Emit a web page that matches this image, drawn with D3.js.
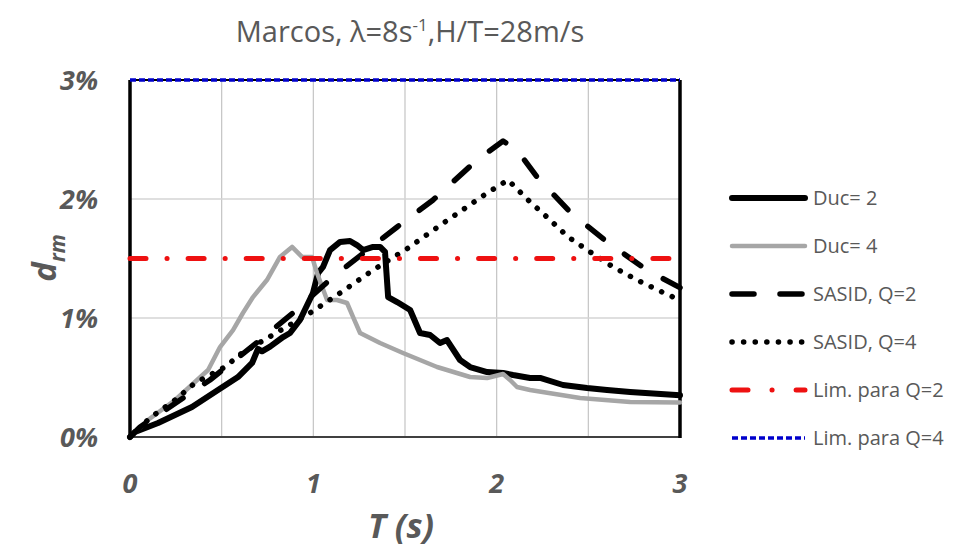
<!DOCTYPE html>
<html>
<head>
<meta charset="utf-8">
<script src="https://cdn.jsdelivr.net/npm/d3@7"></script>
<style>
  body { margin: 0; background: #fff; }
  text { font-family: "Open Sans", "Liberation Sans", sans-serif; fill: #595959; }
</style>
</head>
<body>
<div id="chart"></div>
<script>
// Periods (s) and drift ratios (%)
var duc2T = [0, 0.027, 0.153, 0.338, 0.48, 0.589, 0.666, 0.698, 0.72, 0.764, 0.835, 0.873, 0.927, 0.998, 1.026, 1.053, 1.091, 1.146, 1.2, 1.238, 1.271, 1.326, 1.364, 1.391, 1.408, 1.457, 1.528, 1.582, 1.637, 1.691, 1.729, 1.8, 1.855, 1.948, 2.035, 2.089, 2.182, 2.237, 2.362, 2.493, 2.602, 2.728, 3.0];
var duc2D = [0, 0.042, 0.118, 0.252, 0.395, 0.504, 0.622, 0.74, 0.72, 0.76, 0.84, 0.874, 0.983, 1.21, 1.378, 1.429, 1.571, 1.639, 1.647, 1.613, 1.571, 1.597, 1.597, 1.555, 1.176, 1.134, 1.067, 0.874, 0.857, 0.79, 0.815, 0.647, 0.588, 0.546, 0.538, 0.521, 0.496, 0.496, 0.437, 0.412, 0.395, 0.378, 0.35];

var duc4T = [0, 0.098, 0.246, 0.426, 0.491, 0.562, 0.616, 0.671, 0.747, 0.818, 0.884, 0.911, 0.938, 0.993, 1.02, 1.075, 1.129, 1.184, 1.217, 1.255, 1.364, 1.489, 1.675, 1.855, 1.948, 2.035, 2.073, 2.111, 2.182, 2.455, 2.728, 3.0];
var duc4D = [0, 0.143, 0.311, 0.563, 0.756, 0.899, 1.042, 1.176, 1.319, 1.513, 1.597, 1.555, 1.513, 1.513, 1.378, 1.151, 1.151, 1.126, 1.008, 0.874, 0.79, 0.706, 0.588, 0.504, 0.496, 0.529, 0.479, 0.42, 0.395, 0.328, 0.294, 0.29];

var sasid2T = [0, 0.055, 0.436, 0.709, 0.889, 1.107, 1.457, 1.653, 1.893, 2.035, 2.111, 2.22, 2.4, 2.602, 2.82, 3.0];
var sasid2D = [0, 0.084, 0.479, 0.815, 1.042, 1.345, 1.765, 1.992, 2.328, 2.487, 2.412, 2.185, 1.891, 1.639, 1.403, 1.255];

var sasid4T = [0, 0.109, 0.246, 0.355, 0.518, 0.611, 0.982, 1.146, 1.326, 1.517, 1.702, 1.948, 2.062, 2.171, 2.28, 2.39, 2.51, 2.635, 2.766, 2.902, 3.0];
var sasid4D = [0, 0.16, 0.311, 0.454, 0.588, 0.706, 1.042, 1.21, 1.403, 1.588, 1.79, 2.05, 2.16, 1.992, 1.84, 1.681, 1.555, 1.429, 1.319, 1.218, 1.15];

var limQ2 = 1.5;
var limQ4 = 3.0;

var xTicks = [0, 1, 2, 3];
var xGrid = [0.5, 1, 1.5, 2, 2.5];
var yTicks = [0, 1, 2, 3];
var seriesNames = ["Duc= 2", "Duc= 4", "SASID, Q=2", "SASID, Q=4", "Lim. para Q=2", "Lim. para Q=4"];

function pairs(t, d) { return t.map(function (v, i) { return [v, d[i]]; }); }

var series = [
    { name: seriesNames[0], data: pairs(duc2T, duc2D), color: "#000", width: 6, dash: null, cap: "round" },
    { name: seriesNames[1], data: pairs(duc4T, duc4D), color: "#a6a6a6", width: 4.5, dash: null, cap: "round" },
    { name: seriesNames[2], data: pairs(sasid2T, sasid2D), color: "#000", width: 5.5, dash: "20,26", cap: "round" },
    { name: seriesNames[3], data: pairs(sasid4T, sasid4D), color: "#000", width: 5.5, dash: "0.1,11.5", cap: "round" },
    { name: seriesNames[4], data: [[0, limQ2], [3, limQ2]], color: "#ee1111", width: 5, dash: "16,21,0.1,21", cap: "round" },
    { name: seriesNames[5], data: [[0, limQ4], [3, limQ4]], color: "#0000cc", width: 3.5, dash: "6,3", cap: "butt" }
];

var svgWidth = 960, svgHeight = 551;
var margin = { top: 80, left: 130, right: 280, bottom: 114 };

var svg = d3.select("#chart").append("svg")
    .attr("width", svgWidth)
    .attr("height", svgHeight);

var xScale = d3.scaleLinear().domain([0, 3]).range([margin.left, svgWidth - margin.right]);
var yScale = d3.scaleLinear().domain([0, 3]).range([svgHeight - margin.bottom, margin.top]);

// grid
svg.append("g").selectAll("line").data(xGrid).enter().append("line")
    .attr("x1", d => xScale(d)).attr("x2", d => xScale(d))
    .attr("y1", yScale(0)).attr("y2", yScale(3))
    .attr("stroke", "#c4c4c4").attr("stroke-width", 1.2);
svg.append("g").selectAll("line").data([1, 2]).enter().append("line")
    .attr("x1", xScale(0)).attr("x2", xScale(3))
    .attr("y1", d => yScale(d)).attr("y2", d => yScale(d))
    .attr("stroke", "#d4d4d4").attr("stroke-width", 1.5);

// frame
svg.append("line").attr("x1", xScale(0)).attr("x2", xScale(3))
    .attr("y1", yScale(0)).attr("y2", yScale(0))
    .attr("stroke", "#404040").attr("stroke-width", 2);
svg.append("line").attr("x1", xScale(0)).attr("x2", xScale(3))
    .attr("y1", yScale(3)).attr("y2", yScale(3))
    .attr("stroke", "#000").attr("stroke-width", 2);
[0, 3].forEach(function (v) {
    svg.append("line").attr("x1", xScale(v)).attr("x2", xScale(v))
        .attr("y1", yScale(0) + 1).attr("y2", yScale(3))
        .attr("stroke", "#000").attr("stroke-width", 3.5);
});

// series
var line = d3.line().x(d => xScale(d[0])).y(d => yScale(d[1]));
series.forEach(function (s) {
    svg.append("path")
        .datum(s.data)
        .attr("d", line)
        .attr("fill", "none")
        .attr("stroke", s.color)
        .attr("stroke-width", s.width)
        .attr("stroke-linecap", s.cap)
        .attr("stroke-linejoin", "round")
        .attr("stroke-dasharray", s.dash);
});

// tick labels
svg.append("g").selectAll("text").data(yTicks).enter().append("text")
    .attr("x", 98).attr("y", d => yScale(d) + 10)
    .attr("text-anchor", "end")
    .style("font-size", "27px").style("font-weight", "bold").style("font-style", "italic")
    .text(d => d + "%");
svg.append("g").selectAll("text").data(xTicks).enter().append("text")
    .attr("x", d => xScale(d)).attr("y", 493)
    .attr("text-anchor", "middle")
    .style("font-size", "27px").style("font-weight", "bold").style("font-style", "italic")
    .text(d => d);

// axis titles
svg.append("text")
    .attr("x", 401).attr("y", 538)
    .attr("text-anchor", "middle")
    .style("font-size", "34px").style("font-weight", "bold").style("font-style", "italic")
    .text("T (s)");
var yt = svg.append("text")
    .attr("transform", "translate(56,258) rotate(-90)")
    .attr("text-anchor", "middle")
    .style("font-size", "33px").style("font-weight", "bold").style("font-style", "italic");
yt.append("tspan").text("d");
yt.append("tspan").attr("dy", 9).style("font-size", "21px").text("rm");

// title
var title = svg.append("text")
    .attr("x", 410).attr("y", 42)
    .attr("text-anchor", "middle")
    .style("font-size", "29px");
title.append("tspan").text("Marcos, λ=8s");
title.append("tspan").attr("dy", -11).style("font-size", "17px").text("-1");
title.append("tspan").attr("dy", 11).text(",H/T=28m/s");

// legend
var legend = svg.append("g");
series.forEach(function (s, i) {
    var y = 198 + i * 48;
    legend.append("line")
        .attr("x1", 732).attr("x2", 805)
        .attr("y1", y).attr("y2", y)
        .attr("stroke", s.color)
        .attr("stroke-width", s.width)
        .attr("stroke-linecap", s.cap)
        .attr("stroke-dasharray", i === 2 ? "22,26" : (i === 4 ? "16,24,0.1,24" : s.dash));
    legend.append("text")
        .attr("x", 813).attr("y", y + 7)
        .style("font-size", "20px")
        .text(s.name);
});
</script>
</body>
</html>
